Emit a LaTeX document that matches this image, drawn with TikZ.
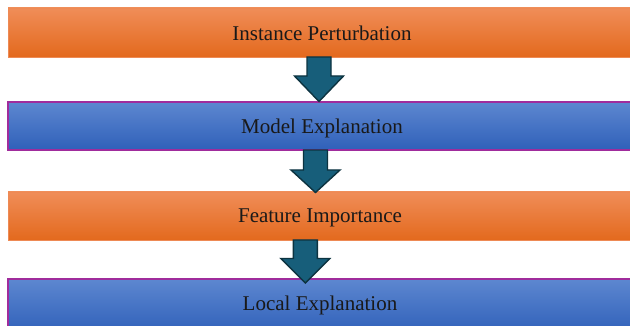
\documentclass[tikz,border=0pt]{standalone}
\usepackage{fontspec}
\setmainfont{Liberation Serif}
\definecolor{orT}{HTML}{F08D58}
\definecolor{orM}{HTML}{F47B2A}
\definecolor{orB}{HTML}{E3691D}
\definecolor{orD}{HTML}{EE8A55}
\definecolor{blT}{HTML}{5D87D0}
\definecolor{blM}{HTML}{4271CA}
\definecolor{blB}{HTML}{2F60B9}
\definecolor{blD}{HTML}{A02C9C}
\definecolor{arF}{HTML}{175E7A}
\definecolor{arD}{HTML}{0D3340}
\tikzset{
  orangebox/.style={draw=orD, line width=0.6pt, shading=axis, top color=orT, middle color=orM, bottom color=orB},
  bluebox/.style={draw=blD, line width=1.6pt, shading=axis, top color=blT, middle color=blM, bottom color=blB},
  boxlabel/.style={font=\fontsize{21}{25}\selectfont, text=black!90, inner sep=0pt, anchor=base},
  blockarrow/.style={fill=arF, draw=arD, line width=1.4pt, line join=miter}
}
\newcommand{\downarrowshape}[4]{% cx, top, heady, tip
  \draw[blockarrow] (#1-12,#2) -- (#1+12,#2) -- (#1+12,#3) -- (#1+24.5,#3) -- (#1,#4) -- (#1-24.5,#3) -- (#1-12,#3) -- cycle;
}
\begin{document}
\begin{tikzpicture}[x=1pt,y=-1pt]
\useasboundingbox (0,0) rectangle (630,326);
\clip (0,0) rectangle (630,326);
\fill[white] (0,0) rectangle (630,326);
% boxes
\path[orangebox] (8,8) rectangle (640,57);
\node[boxlabel] (b1) at (322,41) {Instance Perturbation};
\path[bluebox] (8,102) rectangle (640,150.3);
\node[boxlabel] (b2) at (322,134) {Model Explanation};
\path[orangebox] (8,192) rectangle (640,240.5);
\node[boxlabel] (b3) at (320,222.5) {Feature Importance};
\path[bluebox] (8,279) rectangle (640,334);
\node[boxlabel] (b4) at (320,310.5) {Local Explanation};
% arrows
\downarrowshape{319}{57}{76}{101.5}
\downarrowshape{315.5}{150}{170}{192.5}
\downarrowshape{305.3}{240}{258.5}{283}
\end{tikzpicture}
\end{document}
